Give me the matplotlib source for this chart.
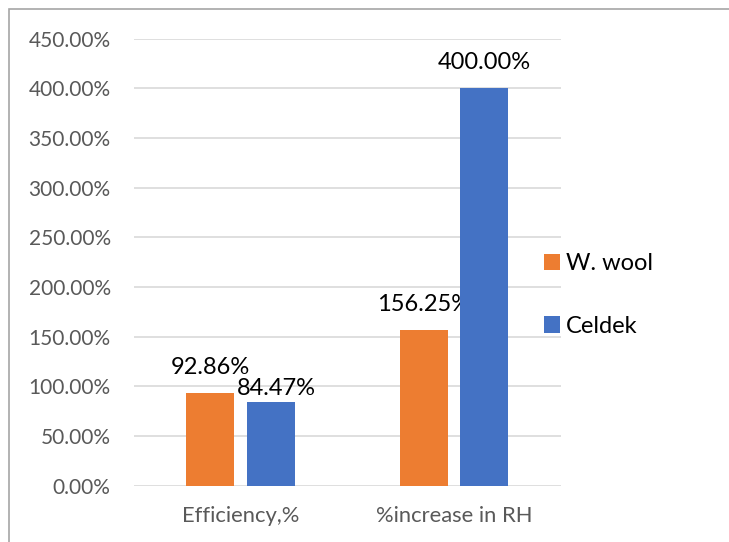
import numpy as np
import matplotlib.pyplot as plt
from matplotlib.patches import Rectangle

plt.rcParams['font.family'] = ['Lato', 'DejaVu Sans']

categories = ["Efficiency,%", "%increase in RH"]
series_names = ["W. wool", "Celdek"]
wool = [92.86, 156.25]
celdek = [84.47, 400.00]
yticks = [0, 50, 100, 150, 200, 250, 300, 350, 400, 450]

colors = ["#ED7D31", "#4472C4"]
# label nudges in points (series, category) -> (dx, dy), the rest sit at default
nudge = {(1, 0): (4.5, -9)}

fig = plt.figure(figsize=(7.29, 5.42), dpi=100)
ax = fig.add_axes([0.1833, 0.1042, 0.5857, 0.8246])

x = np.arange(len(categories))
w = 0.225
off = 0.1414

for s, vals in enumerate([wool, celdek]):
    pos = x + (-off if s == 0 else off)
    ax.bar(pos, vals, width=w, color=colors[s], label=series_names[s], zorder=3)
    for c in range(len(vals)):
        dx, dy = nudge.get((s, c), (0, 0))
        ax.annotate("%.2f%%" % vals[c], (pos[c], vals[c]),
                    xytext=(dx, 13.7 + dy), textcoords="offset points",
                    ha="center", va="baseline", fontsize=17, color="black")

ax.set_xlim(-0.5, 1.5)
ax.set_ylim(0, 450)
ax.set_yticks(yticks)
ax.set_yticklabels(["%.2f%%" % t for t in yticks])
ax.set_xticks(x)
ax.set_xticklabels(categories)
ax.tick_params(axis="y", length=0, pad=16.5, labelsize=15, labelcolor="#595959")
ax.tick_params(axis="x", length=0, pad=15, labelsize=15.8, labelcolor="#595959")
ax.grid(axis="y", color="#d9d9d9", linewidth=1.2, zorder=0)
for sp in ax.spines.values():
    sp.set_visible(False)

leg = ax.legend(loc="center left", bbox_to_anchor=(544 / 729, 1 - 295 / 542),
                bbox_transform=fig.transFigure, frameon=False, fontsize=17,
                handlelength=0.67, handleheight=0.67, handletextpad=0.27,
                labelspacing=1.76, borderpad=0, borderaxespad=0)

# chart frame (runs off the right and bottom of the picture)
fig.add_artist(Rectangle((9 / 729, -0.1), 1.2, 1.1 - 9 / 542,
                         transform=fig.transFigure, fill=False,
                         edgecolor="#a6a6a6", linewidth=1.2))

plt.savefig("out.png", dpi=100)
